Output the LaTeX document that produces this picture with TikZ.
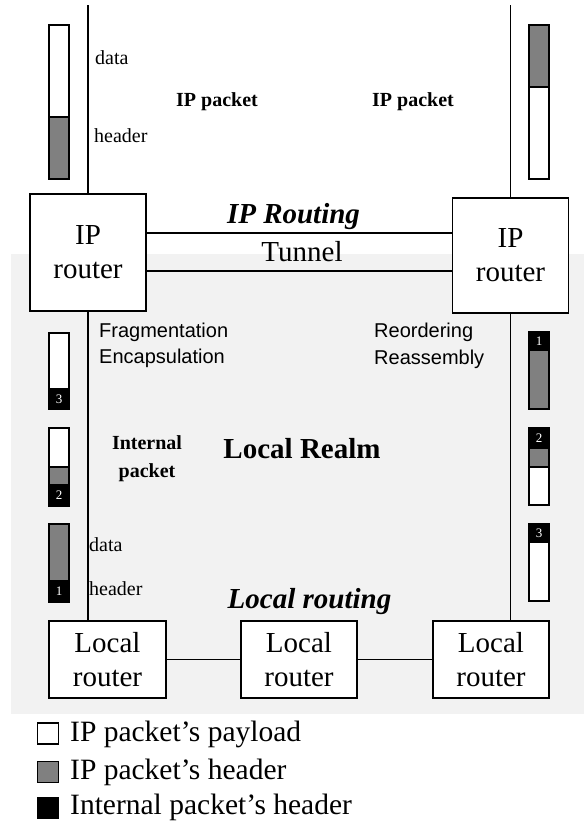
\documentclass[tikz,border=0pt]{standalone}
\usepackage{fontspec}
\setmainfont{Liberation Serif}
\setsansfont{Liberation Sans}
\definecolor{hdrgray}{HTML}{808080}
\definecolor{realmbg}{HTML}{F2F2F2}
\newcommand{\fsz}[2]{\fontsize{#1}{#2}\selectfont}

\begin{document}
\begin{tikzpicture}[x=1pt, y=-1pt,
  router/.style={draw, line width=1.5pt, fill=white, align=center, inner sep=0pt, font={\fsz{29}{34}}},
  link/.style={line width=1.4pt},
  seg/.style={draw, line width=1.6pt},
  num/.style={text=white, inner sep=0pt, font={\fsz{13}{13}}},
  lbl/.style={inner sep=0pt, anchor=base west, font={\fsz{20}{20}}},
  title/.style={inner sep=0pt, anchor=base, font={\fsz{29}{29}\bfseries\itshape}},
  key/.style={draw, line width=1.3pt, minimum size=21pt, inner sep=0pt}]
  \useasboundingbox (0,0) rectangle (584,822);
  \fill[realmbg] (11,254) rectangle (584,714);

  % routers
  \node[router, minimum width=116pt, minimum height=117pt] (iprL) at (88,252.5) {IP\\router};
  \node[router, minimum width=116pt, minimum height=115pt] (iprR) at (510.5,255.5) {IP\\router};
  \node[router, minimum width=117pt, minimum height=77pt] (lrL) at (107.5,659.5) {Local\\router};
  \node[router, minimum width=116pt, minimum height=77pt] (lrM) at (299,659.5) {Local\\router};
  \node[router, minimum width=116pt, minimum height=77pt] (lrR) at (491,659.5) {Local\\router};

  % links
  \coordinate (inL) at (88,5);
  \coordinate (inR) at (510.5,5);
  \draw[link] (inL) -- (iprL.north);
  \draw[link] (inR) -- (iprR.north);
  \draw[link] (iprL.south) -- (iprL.south |- lrL.north);
  \draw[link] (iprR.south) -- (iprR.south |- lrR.north);
  \draw[link] (iprL.east |- 0,233) -- (iprR.west |- 0,233);
  \draw[link] (iprL.east |- 0,271) -- (iprR.west |- 0,271);
  \draw[link] (lrL) -- (lrM);
  \draw[link] (lrM) -- (lrR);

  % IP packets
  \draw[seg, fill=white] (49,25) rectangle (69,117);
  \draw[seg, fill=hdrgray] (49,117) rectangle (69,179);
  \draw[seg, fill=hdrgray] (529,25) rectangle (549,87);
  \draw[seg, fill=white] (529,87) rectangle (549,179);

  % fragments, left side
  \draw[seg, fill=white] (49,333) rectangle (69,389);
  \draw[seg, fill=black] (49,389) rectangle (69,409);
  \node[num] (fL3) at (59,399) {3};
  \draw[seg, fill=white] (49,428) rectangle (69,467);
  \draw[seg, fill=hdrgray] (49,467) rectangle (69,485);
  \draw[seg, fill=black] (49,485) rectangle (69,506);
  \node[num] (fL2) at (59,495.5) {2};
  \draw[seg, fill=hdrgray] (49,524) rectangle (69,581);
  \draw[seg, fill=black] (49,581) rectangle (69,602);
  \node[num] (fL1) at (59,591.5) {1};

  % fragments, right side
  \draw[seg, fill=black] (529,332) rectangle (549,350);
  \draw[seg, fill=hdrgray] (529,350) rectangle (549,409);
  \node[num] (fR1) at (539,341) {1};
  \draw[seg, fill=black] (529,428) rectangle (549,448);
  \draw[seg, fill=hdrgray] (529,448) rectangle (549,467);
  \draw[seg, fill=white] (529,467) rectangle (549,505);
  \node[num] (fR2) at (539,438) {2};
  \draw[seg, fill=black] (529,524) rectangle (549,542);
  \draw[seg, fill=white] (529,542) rectangle (549,601);
  \node[num] (fR3) at (539,533) {3};

  % labels
  \node[lbl] (dataT) at (95,64) {data};
  \node[lbl] (hdrT) at (94,142) {header};
  \node[lbl] (dataB) at (89,551) {data};
  \node[lbl] (hdrB) at (89,595) {header};
  \node[lbl, font={\fsz{20}{20}\bfseries}] (pktL) at (176,106) {IP packet};
  \node[lbl, anchor=base east, font={\fsz{20}{20}\bfseries}] (pktR) at (454,106) {IP packet};
  \node[lbl, font={\fsz{20}{20}\sffamily}] (frag) at (99,337) {Fragmentation};
  \node[lbl, font={\fsz{20}{20}\sffamily}] (encap) at (99,363) {Encapsulation};
  \node[lbl, font={\fsz{20}{20}\sffamily}] (reord) at (374,337) {Reordering};
  \node[lbl, font={\fsz{20}{20}\sffamily}] (reass) at (374,364) {Reassembly};
  \node[lbl, anchor=base, font={\fsz{20}{20}\bfseries}] (intA) at (147,449) {Internal};
  \node[lbl, anchor=base, font={\fsz{20}{20}\bfseries}] (intB) at (147,477) {packet};
  \node[title] (iprt) at (293.5,223) {IP Routing};
  \node[title, font={\fsz{29}{29}}] (tunnel) at (302,261) {Tunnel};
  \node[title, font={\fsz{29}{29}\bfseries}] (realm) at (302,458) {Local Realm};
  \node[title] (lrt) at (309.5,608) {Local routing};

  % legend
  \node[key, fill=white] (kPay) at (48,733.5) {};
  \node[key, fill=hdrgray] (kHdr) at (48,772) {};
  \node[key, fill=black] (kInt) at (48,808) {};
  \node[lbl, font={\fsz{29.5}{30}}] (tPay) at (70,741) {IP packet’s payload};
  \node[lbl, font={\fsz{29.5}{30}}] (tHdr) at (70,779) {IP packet’s header};
  \node[lbl, font={\fsz{29.5}{30}}] (tInt) at (70,814.5) {Internal packet’s header};
\end{tikzpicture}
\end{document}
